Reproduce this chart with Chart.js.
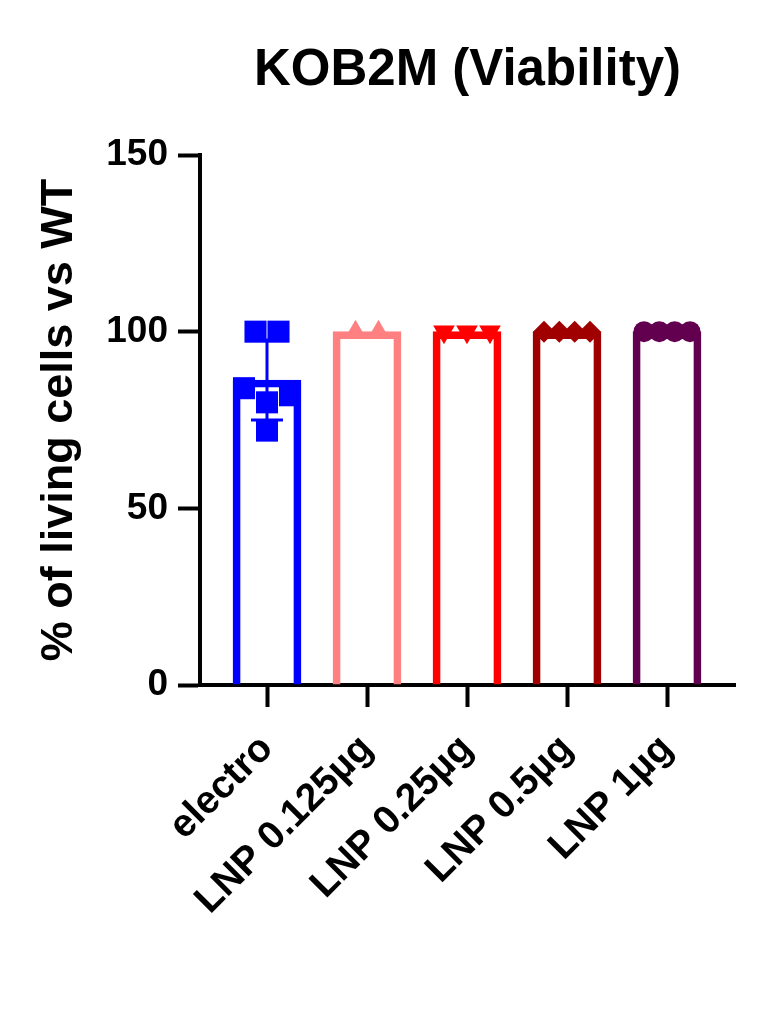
<!DOCTYPE html>
<html>
<head>
<meta charset="utf-8">
<script src="https://cdn.jsdelivr.net/npm/chart.js@4/dist/chart.umd.min.js"></script>
<style>
  html, body { margin: 0; padding: 0; background: #fff; }
  #wrap { width: 767px; height: 1024px; position: relative; }
</style>
</head>
<body>
<div id="wrap"><canvas id="c"></canvas></div>
<script>
// ---- data ----
const categories = ['electro', 'LNP 0.125µg', 'LNP 0.25µg', 'LNP 0.5µg', 'LNP 1µg'];
const electro   = [100, 100, 84, 82, 80, 72];
const lnp0125   = [100, 100];
const lnp025    = [100, 100, 100];
const lnp05     = [100, 100, 100, 100];
const lnp1      = [100, 100, 100, 100];
const yTicks    = [0, 50, 100, 150];
const chartTitle = 'KOB2M (Viability)';
const yTitle     = '% of living cells vs WT';

const groups = [electro, lnp0125, lnp025, lnp05, lnp1];
const colors = ['#0000FF', '#FF8080', '#FF0000', '#A00000', '#62004F'];
const styles = ['rect', 'triangle', 'triangle', 'rectRot', 'circle'];
const rotations = [0, 0, 180, 0, 0];
const radii = [15.6, 12, 12.5, 11, 10.5];

function mean(a) { return a.reduce((s, v) => s + v, 0) / a.length; }
function sd(a) {
  if (a.length < 2) return 0;
  const m = mean(a);
  return Math.sqrt(a.reduce((s, v) => s + (v - m) * (v - m), 0) / (a.length - 1));
}
const means = groups.map(mean);
const sds = groups.map(sd);

// scatter spread: points with overlapping y form a row, centred on the category
function spread(values, idx) {
  const unitsPerPx = 150 / 530; // value units per pixel (for grouping only)
  const sorted = values.map((v, i) => ({ v, i })).sort((a, b) => b.v - a.v);
  const rows = [];
  sorted.forEach(p => {
    const last = rows[rows.length - 1];
    if (last && Math.abs(last[0].v - p.v) < 22 * unitsPerPx) last.push(p); else rows.push([p]);
  });
  const out = [];
  rows.forEach(row => {
    const n = row.length;
    const step = n > 1 ? Math.min(0.23, 0.46 / (n - 1)) : 0;
    let order;
    if (n === 3) order = [row[0], row[2], row[1]]; else order = row;
    order.forEach((p, k) => out.push({ x: idx + (k - (n - 1) / 2) * step, y: p.v }));
  });
  return out;
}

const scatterSets = groups.map((g, i) => ({
  type: 'scatter',
  data: spread(g, i),
  pointStyle: styles[i],
  pointRotation: rotations[i],
  pointRadius: radii[i],
  pointHoverRadius: radii[i],
  pointBackgroundColor: colors[i],
  pointBorderColor: colors[i],
  pointBorderWidth: 0,
  order: 1
}));

const barSet = {
  type: 'bar',
  data: means.map((m, i) => ({ x: i, y: m })),
  backgroundColor: 'rgba(255,255,255,0)',
  borderColor: colors,
  borderWidth: 7,
  borderSkipped: 'start',
  barThickness: 68,
  order: 2
};

const errorBars = {
  id: 'errorBars',
  afterDatasetDraw(chart, args) {
    if (args.index !== 0) return;
    const xs = chart.scales.x, ys = chart.scales.y, ctx = chart.ctx;
    ctx.save();
    groups.forEach((g, i) => {
      if (!sds[i]) return;
      const px = xs.getPixelForValue(i);
      const top = ys.getPixelForValue(means[i] + sds[i]);
      const bot = ys.getPixelForValue(means[i] - sds[i]);
      ctx.strokeStyle = colors[i];
      ctx.lineWidth = 3;
      ctx.beginPath();
      ctx.moveTo(px, top); ctx.lineTo(px, bot);
      ctx.moveTo(px - 16, top); ctx.lineTo(px + 16, top);
      ctx.moveTo(px - 16, bot); ctx.lineTo(px + 16, bot);
      ctx.stroke();
    });
    ctx.restore();
  }
};

const titlePlugin = {
  id: 'titlePlugin',
  afterDraw(chart) {
    const ctx = chart.ctx, a = chart.chartArea;
    ctx.save();
    ctx.fillStyle = '#000';
    ctx.font = 'bold 51px "Liberation Sans", Arial, sans-serif';
    ctx.textAlign = 'center';
    ctx.textBaseline = 'alphabetic';
    ctx.fillText(chartTitle, (a.left + a.right) / 2, 85);
    ctx.restore();
  }
};

const FONT = '"Liberation Sans", Arial, sans-serif';

new Chart(document.getElementById('c'), {
  data: { datasets: [barSet, ...scatterSets] },
  options: {
    responsive: true,
    maintainAspectRatio: false,
    animation: false,
    events: [],
    layout: { padding: { top: 155, right: 32, left: 0, bottom: 0 } },
    plugins: { legend: { display: false }, tooltip: { enabled: false }, title: { display: false } },
    scales: {
      x: {
        type: 'linear',
        min: -0.67,
        max: 4.68,
        offset: false,
        afterFit(s) { s.height = 1024 - 685; },
        afterBuildTicks(s) { s.ticks = categories.map((c, i) => ({ value: i })); },
        ticks: {
          autoSkip: false,
          minRotation: 45,
          maxRotation: 45,
          padding: 19,
          color: '#000',
          font: { family: FONT, size: 39, weight: 'bold' },
          callback: v => categories[v]
        },
        grid: { display: true, drawOnChartArea: false, offset: false, drawTicks: true, tickLength: 22, tickWidth: 4, tickColor: '#000' },
        border: { display: true, color: '#000', width: 4 }
      },
      y: {
        type: 'linear',
        min: 0,
        max: 150,
        afterFit(s) { s.width = 200; },
        afterBuildTicks(s) { s.ticks = yTicks.map(v => ({ value: v })); },
        ticks: {
          padding: 10,
          color: '#000',
          font: { family: FONT, size: 37, weight: 'bold' }
        },
        title: {
          display: true,
          text: yTitle,
          color: '#000',
          font: { family: FONT, size: 45, weight: 'bold' },
          padding: { top: 33, bottom: 0 }
        },
        grid: { display: true, drawOnChartArea: false, drawTicks: true, tickLength: 22, tickWidth: 4, tickColor: '#000' },
        border: { display: true, color: '#000', width: 4 }
      }
    }
  },
  plugins: [errorBars, titlePlugin]
});
</script>
</body>
</html>
